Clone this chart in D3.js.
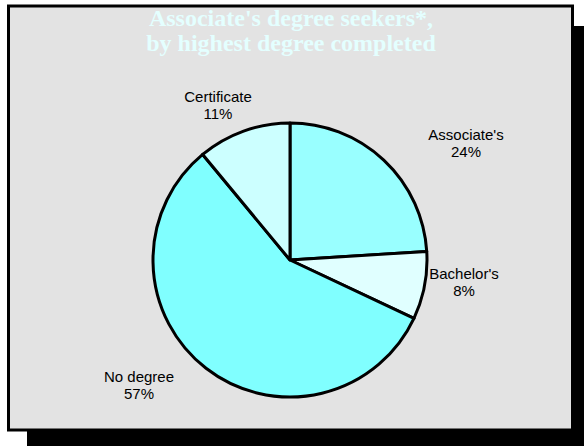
<!DOCTYPE html>
<html>
<head>
<meta charset="utf-8">
<script src="https://cdn.jsdelivr.net/npm/d3@7"></script>
<style>
  html, body { margin: 0; padding: 0; background: #ffffff; }
  svg { display: block; }
</style>
</head>
<body>
<svg id="chart" width="584" height="446"></svg>
<script>
// Highest degree completed among associate's degree seekers (percent)
const categories = ["Associate's", "Bachelor's", "No degree", "Certificate"];
const values = [24, 8, 57, 11];
const sliceColors = ["#99ffff", "#e0ffff", "#80ffff", "#ccffff"];
const titleLines = ["Associate's degree seekers*,", "by highest degree completed"];

// Label anchors relative to the pie centre
const labelOffsets = [[176, -120], [174, 19], [-151, 122], [-72, -158]];

const svg = d3.select("#chart");

// Drop shadow and framed panel
svg.append("rect")
  .attr("x", 27).attr("y", 26).attr("width", 570).attr("height", 430)
  .attr("fill", "#000");
svg.append("rect")
  .attr("x", 8.5).attr("y", 6).attr("width", 564).attr("height", 424)
  .attr("fill", "#e3e3e3").attr("stroke", "#000").attr("stroke-width", 3);

// Title
svg.append("g")
  .selectAll("text")
  .data(titleLines)
  .join("text")
  .attr("x", 291)
  .attr("y", (d, i) => 26 + i * 25)
  .attr("text-anchor", "middle")
  .attr("font-family", "'Liberation Serif', 'Times New Roman', serif")
  .attr("font-weight", "bold")
  .attr("font-size", 24)
  .attr("fill", "#e4ffff")
  .text(d => d);

const cx = 290, cy = 260, radius = 137;

const pie = d3.pie().sort(null).value(d => d.value);
const arcs = pie(categories.map((c, i) => ({ name: c, value: values[i], color: sliceColors[i] })));
const arc = d3.arc().innerRadius(0).outerRadius(radius);

const g = svg.append("g").attr("transform", `translate(${cx},${cy})`);

g.selectAll("path")
  .data(arcs)
  .join("path")
  .attr("d", arc)
  .attr("fill", d => d.data.color)
  .attr("stroke", "#000")
  .attr("stroke-width", 3)
  .attr("stroke-linejoin", "round");

// Category and percentage labels
const labels = g.selectAll("g.label")
  .data(arcs)
  .join("g")
  .attr("class", "label")
  .attr("transform", (d, i) => `translate(${labelOffsets[i][0]},${labelOffsets[i][1]})`);

labels.append("text")
  .attr("text-anchor", "middle")
  .attr("font-family", "'Liberation Sans', Arial, sans-serif")
  .attr("font-size", 15)
  .attr("fill", "#000")
  .text(d => d.data.name);

labels.append("text")
  .attr("text-anchor", "middle")
  .attr("y", 17)
  .attr("font-family", "'Liberation Sans', Arial, sans-serif")
  .attr("font-size", 15)
  .attr("fill", "#000")
  .text(d => d3.format(".0f")(d.data.value) + "%");
</script>
</body>
</html>
